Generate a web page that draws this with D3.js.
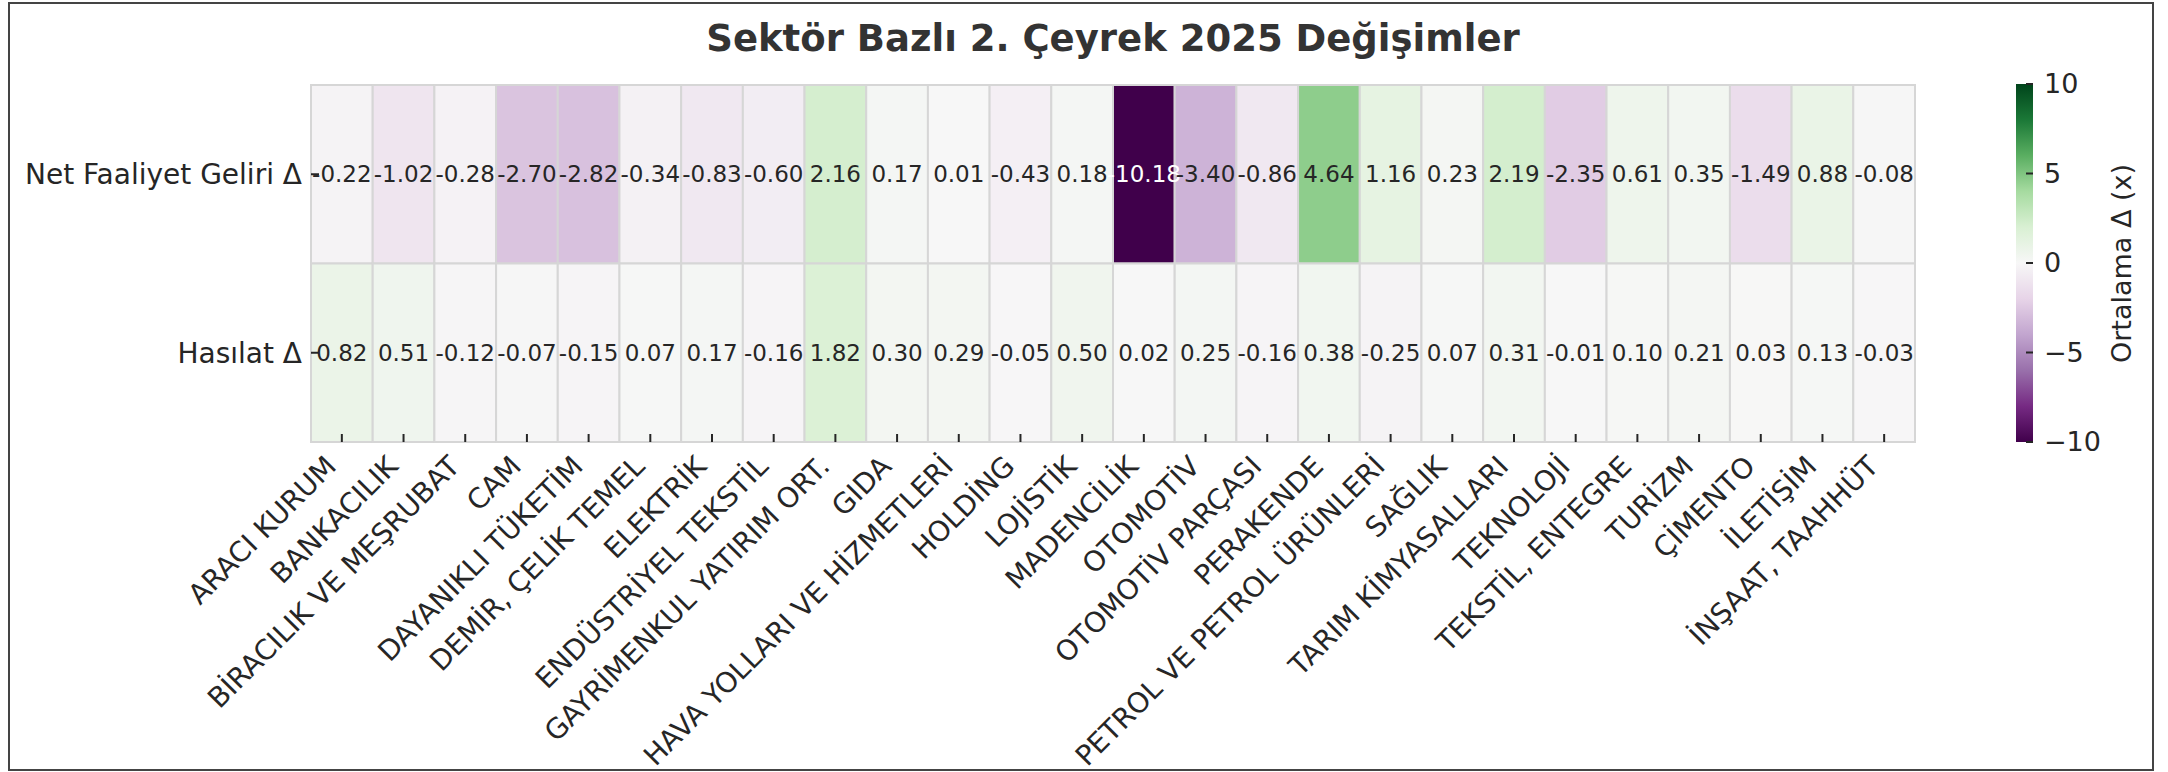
<!DOCTYPE html>
<html>
<head>
<meta charset="utf-8">
<script src="https://cdn.jsdelivr.net/npm/d3@7"></script>
<style>
body { margin: 0; background: #fff; }
text { font-family: "DejaVu Sans", sans-serif; }
</style>
</head>
<body>
<div id="chart"></div>
<script>
var sectors = ["ARACI KURUM", "BANKACILIK", "BİRACILIK VE MEŞRUBAT", "CAM", "DAYANIKLI TÜKETİM",
  "DEMİR, ÇELİK TEMEL", "ELEKTRİK", "ENDÜSTRİYEL TEKSTİL", "GAYRİMENKUL YATIRIM ORT.", "GIDA",
  "HAVA YOLLARI VE HİZMETLERİ", "HOLDİNG", "LOJİSTİK", "MADENCİLİK", "OTOMOTİV", "OTOMOTİV PARÇASI",
  "PERAKENDE", "PETROL VE PETROL ÜRÜNLERİ", "SAĞLIK", "TARIM KİMYASALLARI", "TEKNOLOJİ",
  "TEKSTİL, ENTEGRE", "TURİZM", "ÇİMENTO", "İLETİŞİM", "İNŞAAT, TAAHHÜT"];
var metrics = ["Net Faaliyet Geliri Δ", "Hasılat Δ"];
var netFaaliyet = [-0.22, -1.02, -0.28, -2.70, -2.82, -0.34, -0.83, -0.60, 2.16, 0.17, 0.01, -0.43, 0.18,
  -10.18, -3.40, -0.86, 4.64, 1.16, 0.23, 2.19, -2.35, 0.61, 0.35, -1.49, 0.88, -0.08];
var hasilat = [0.82, 0.51, -0.12, -0.07, -0.15, 0.07, 0.17, -0.16, 1.82, 0.30, 0.29, -0.05, 0.50,
  0.02, 0.25, -0.16, 0.38, -0.25, 0.07, 0.31, -0.01, 0.10, 0.21, 0.03, 0.13, -0.03];
var cbarTicks = [-10, -5, 0, 5, 10];
var prgn = ["#40004b", "#762a83", "#9970ab", "#c2a5cf", "#e7d4e8", "#f7f7f7",
  "#d9f0d3", "#a6dba0", "#5aae61", "#1b7837", "#00441b"];

var width = 2168, height = 772;
var hmLeft = 311, hmRight = 1915, hmTop = 85, hmBottom = 442;

var svg = d3.select("#chart").append("svg")
  .attr("width", width)
  .attr("height", height);

svg.append("rect")
  .attr("x", 9).attr("y", 3)
  .attr("width", 2144).attr("height", 767)
  .attr("fill", "#fff")
  .attr("stroke", "#444")
  .attr("stroke-width", 2);

svg.append("text")
  .attr("x", 1113).attr("y", 51)
  .attr("text-anchor", "middle")
  .attr("font-size", 37)
  .attr("font-weight", "bold")
  .attr("fill", "#333")
  .text("Sektör Bazlı 2. Çeyrek 2025 Değişimler");

var x = d3.scaleBand().domain(sectors).range([hmLeft, hmRight]);
var y = d3.scaleBand().domain(metrics).range([hmTop, hmBottom]);

var color = d3.scaleLinear()
  .domain(d3.range(prgn.length).map(function(i) { return -10 + i * 2; }))
  .range(prgn)
  .interpolate(d3.interpolateRgb)
  .clamp(true);

var cells = [];
var rows = [netFaaliyet, hasilat];
rows.forEach(function(vals, r) {
  vals.forEach(function(v, i) {
    cells.push({ sector: sectors[i], metric: metrics[r], value: v });
  });
});

function textColor(c) {
  var rgb = d3.rgb(c);
  var lin = [rgb.r, rgb.g, rgb.b].map(function(u) {
    u = u / 255;
    return u <= 0.03928 ? u / 12.92 : Math.pow((u + 0.055) / 1.055, 2.4);
  });
  var lum = 0.2126 * lin[0] + 0.7152 * lin[1] + 0.0722 * lin[2];
  return lum > 0.408 ? "#262626" : "#ffffff";
}

var heat = svg.append("g").attr("class", "heat");

heat.selectAll("rect")
  .data(cells)
  .enter().append("rect")
  .attr("x", function(d) { return x(d.sector); })
  .attr("y", function(d) { return y(d.metric); })
  .attr("width", x.bandwidth())
  .attr("height", y.bandwidth())
  .attr("fill", function(d) { return color(d.value); })
  .attr("stroke", "#d6d6d6")
  .attr("stroke-width", 2);

heat.selectAll("text")
  .data(cells)
  .enter().append("text")
  .attr("x", function(d) { return x(d.sector) + x.bandwidth() / 2; })
  .attr("y", function(d) { return y(d.metric) + y.bandwidth() / 2; })
  .attr("dy", "0.35em")
  .attr("text-anchor", "middle")
  .attr("font-size", 23)
  .attr("fill", function(d) { return textColor(color(d.value)); })
  .text(function(d) { return d.value.toFixed(2); });

// x axis: ticks point inward, labels rotated
var xAxis = svg.append("g").attr("class", "xaxis");
xAxis.selectAll("line")
  .data(sectors)
  .enter().append("line")
  .attr("x1", function(d) { return x(d) + x.bandwidth() / 2; })
  .attr("x2", function(d) { return x(d) + x.bandwidth() / 2; })
  .attr("y1", hmBottom - 8)
  .attr("y2", hmBottom)
  .attr("stroke", "#262626")
  .attr("stroke-width", 2);
xAxis.selectAll("text")
  .data(sectors)
  .enter().append("text")
  .attr("transform", function(d) {
    return "translate(" + (x(d) + x.bandwidth() / 2 - 4) + "," + 468 + ") rotate(-45)";
  })
  .attr("text-anchor", "end")
  .attr("font-size", 28)
  .attr("fill", "#262626")
  .text(function(d) { return d; });

// y axis
var yAxis = svg.append("g").attr("class", "yaxis");
yAxis.selectAll("line")
  .data(metrics)
  .enter().append("line")
  .attr("x1", hmLeft)
  .attr("x2", hmLeft + 8)
  .attr("y1", function(d) { return y(d) + y.bandwidth() / 2; })
  .attr("y2", function(d) { return y(d) + y.bandwidth() / 2; })
  .attr("stroke", "#262626")
  .attr("stroke-width", 2);
yAxis.selectAll("text")
  .data(metrics)
  .enter().append("text")
  .attr("x", hmLeft - 9)
  .attr("y", function(d) { return y(d) + y.bandwidth() / 2; })
  .attr("dy", "0.35em")
  .attr("text-anchor", "end")
  .attr("font-size", 28)
  .attr("fill", "#262626")
  .text(function(d) { return d; });

// colorbar
var cbX = 2016, cbW = 17;
var cy = d3.scaleLinear().domain([-10, 10]).range([hmBottom, hmTop - 1]);

var grad = svg.append("defs").append("linearGradient")
  .attr("id", "cbar-grad")
  .attr("x1", "0").attr("y1", "1")
  .attr("x2", "0").attr("y2", "0");
prgn.forEach(function(c, i) {
  grad.append("stop")
    .attr("offset", (i / (prgn.length - 1) * 100) + "%")
    .attr("stop-color", c);
});

svg.append("rect")
  .attr("x", cbX)
  .attr("y", cy(10))
  .attr("width", cbW)
  .attr("height", cy(-10) - cy(10))
  .attr("fill", "url(#cbar-grad)");

var cbar = svg.append("g").attr("class", "cbar");
cbar.selectAll("line")
  .data(cbarTicks)
  .enter().append("line")
  .attr("x1", cbX + cbW - 7)
  .attr("x2", cbX + cbW)
  .attr("y1", function(d) { return cy(d); })
  .attr("y2", function(d) { return cy(d); })
  .attr("stroke", "#262626")
  .attr("stroke-width", 2);
cbar.selectAll("text")
  .data(cbarTicks)
  .enter().append("text")
  .attr("x", cbX + cbW + 11)
  .attr("y", function(d) { return cy(d); })
  .attr("dy", "0.35em")
  .attr("font-size", 27)
  .attr("fill", "#262626")
  .text(function(d) { return d < 0 ? "\u2212" + Math.abs(d) : d; });

svg.append("text")
  .attr("transform", "translate(2131," + ((hmTop + hmBottom) / 2) + ") rotate(-90)")
  .attr("text-anchor", "middle")
  .attr("font-size", 27)
  .attr("fill", "#262626")
  .text("Ortalama Δ (x)");
</script>
</body>
</html>
